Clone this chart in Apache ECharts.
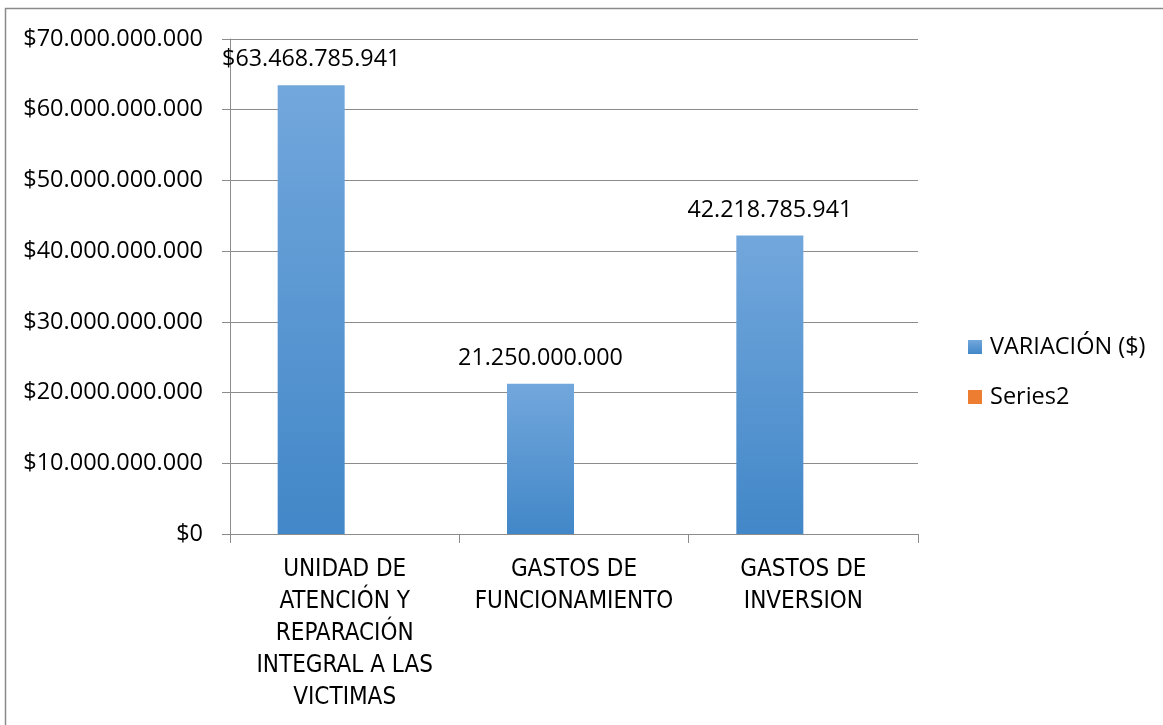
<!DOCTYPE html>
<html>
<head>
<meta charset="utf-8">
<script src="https://cdn.jsdelivr.net/npm/echarts@6/dist/echarts.min.js"></script>
<style>
html,body{margin:0;padding:0;background:#fff;}
#c{width:1163px;height:725px;}
</style>
</head>
<body>
<div id="c"></div>
<script>
var categories = [
  "UNIDAD DE\nATENCIÓN Y\nREPARACIÓN\nINTEGRAL A LAS\nVICTIMAS",
  "GASTOS DE\nFUNCIONAMIENTO",
  "GASTOS DE\nINVERSION"
];
var variacion = [63468785941, 21250000000, 42218785941];
var labelPrefix = ["$", "", ""];
var series2 = ["-", "-", "-"];
var yTicks = { min: 0, max: 70000000000, interval: 10000000000 };

function fmt(v) {
  return String(Math.round(v)).replace(/\B(?=(\d{3})+(?!\d))/g, ".");
}

var numFont = "'Open Sans', 'Noto Sans', sans-serif";
var catFont = "'Liberation Sans Narrow', 'DejaVu Sans Condensed', 'Liberation Sans', sans-serif";

var chart = echarts.init(document.getElementById('c'), null, {renderer: 'canvas'});
chart.setOption({
  backgroundColor: '#ffffff',
  animation: false,
  graphic: [{
    type: 'rect',
    shape: {x: 5.5, y: 8.5, width: 1300, height: 900},
    style: {fill: null, stroke: '#8a8a8a', lineWidth: 1.5},
    silent: true
  }],
  grid: {left: 230, right: 245, top: 39, bottom: 191},
  legend: {
    orient: 'vertical',
    left: 963,
    top: 329,
    itemWidth: 14,
    itemHeight: 14,
    itemGap: 24,
    icon: 'rect',
    textStyle: {fontFamily: numFont, fontSize: 23.5, color: '#000', lineHeight: 26, padding: [0, 0, 0, 3]},
    data: ['VARIACIÓN ($)', 'Series2']
  },
  xAxis: {
    type: 'category',
    data: categories,
    axisLine: {show: true, lineStyle: {color: '#8c8c8c', width: 1}},
    axisTick: {show: true, length: 9, alignWithLabel: false, lineStyle: {color: '#8c8c8c'}},
    axisLabel: {
      interval: 0,
      margin: 20,
      fontFamily: catFont,
      fontSize: 24,
      lineHeight: 32,
      color: '#000',
      align: 'center'
    }
  },
  yAxis: {
    type: 'value',
    min: yTicks.min,
    max: yTicks.max,
    interval: yTicks.interval,
    axisLine: {show: true, lineStyle: {color: '#8c8c8c', width: 1}},
    axisTick: {show: true, length: 8, lineStyle: {color: '#8c8c8c'}},
    splitLine: {show: true, lineStyle: {color: '#8c8c8c', width: 1}},
    axisLabel: {
      margin: 27,
      fontFamily: numFont,
      fontSize: 23.5,
      color: '#000',
      formatter: function (v) { return '$' + fmt(v); }
    }
  },
  series: [
    {
      name: 'VARIACIÓN ($)',
      type: 'bar',
      data: variacion,
      barWidth: 67,
      barGap: '0%',
      itemStyle: {
        color: new echarts.graphic.LinearGradient(0, 0, 0, 1, [
          {offset: 0, color: '#72a7dc'},
          {offset: 1, color: '#4287c8'}
        ])
      },
      label: {
        show: true,
        position: 'top',
        distance: 14,
        fontFamily: numFont,
        fontSize: 23.3,
        color: '#000',
        formatter: function (p) { return labelPrefix[p.dataIndex] + fmt(p.value); }
      }
    },
    {
      name: 'Series2',
      type: 'bar',
      data: series2,
      barWidth: 67,
      barGap: '0%',
      itemStyle: {color: '#ed7d31'}
    }
  ]
});
</script>
</body>
</html>
